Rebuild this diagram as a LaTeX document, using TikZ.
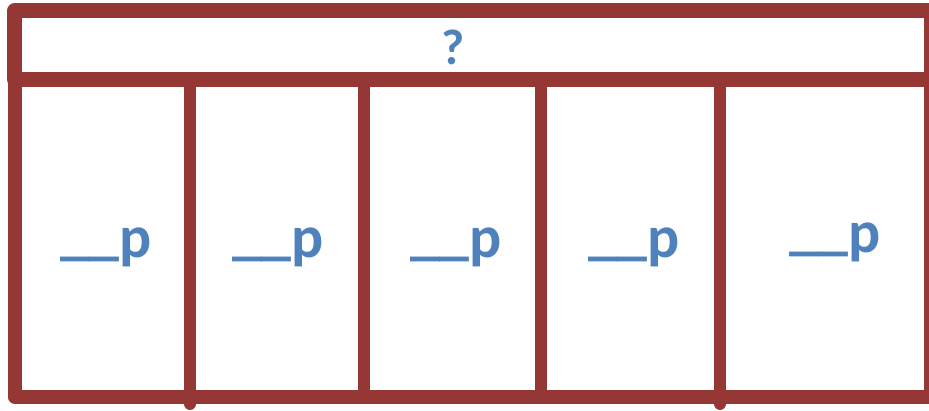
\documentclass[tikz,border=0pt]{standalone}
\usepackage{fontspec}
\setmainfont{Carlito}
\definecolor{frame}{HTML}{953735}
\definecolor{txtblue}{HTML}{4F81BD}
\newcommand{\blankp}{\raisebox{4pt}{\_\_}p}
\begin{document}
\begin{tikzpicture}[x=1pt,y=-1pt,
  framestyle/.style={draw=frame,line width=15pt,line join=round},
  divider/.style={draw=frame,line width=12pt},
  longdiv/.style={draw=frame,line width=12pt,line cap=round},
  lbl/.style={text=txtblue,font=\bfseries\fontsize{60}{60}\selectfont,anchor=base,inner sep=0pt},
  qlbl/.style={text=txtblue,font=\bfseries\fontsize{50}{50}\selectfont,anchor=base,inner sep=0pt}]
\useasboundingbox (0,0) rectangle (929,411);
\clip (0,0) rectangle (929,411);
% top box
\draw[framestyle] (14.8,10.8) rectangle (931,80);
% body
\draw[framestyle,line width=14pt] (14.8,80) -- (14.8,397) -- (931,397) -- (931,80);
% dividers
\coordinate (d1t) at (190,80); \coordinate (d1b) at (190,404);
\coordinate (d2t) at (364,80); \coordinate (d2b) at (364,397);
\coordinate (d3t) at (541,80); \coordinate (d3b) at (541,397);
\coordinate (d4t) at (720,80); \coordinate (d4b) at (720,404);
\draw[longdiv] (d1t) -- (d1b);
\draw[divider] (d2t) -- (d2b);
\draw[divider] (d3t) -- (d3b);
\draw[longdiv] (d4t) -- (d4b);
% labels
\node[qlbl] (q) at (453,65) {?};
\node[lbl] (p1) at (106,258) {\blankp};
\node[lbl] (p2) at (278,258) {\blankp};
\node[lbl] (p3) at (456,258) {\blankp};
\node[lbl] (p4) at (634,258) {\blankp};
\node[lbl] (p5) at (835,253) {\blankp};
\end{tikzpicture}
\end{document}
